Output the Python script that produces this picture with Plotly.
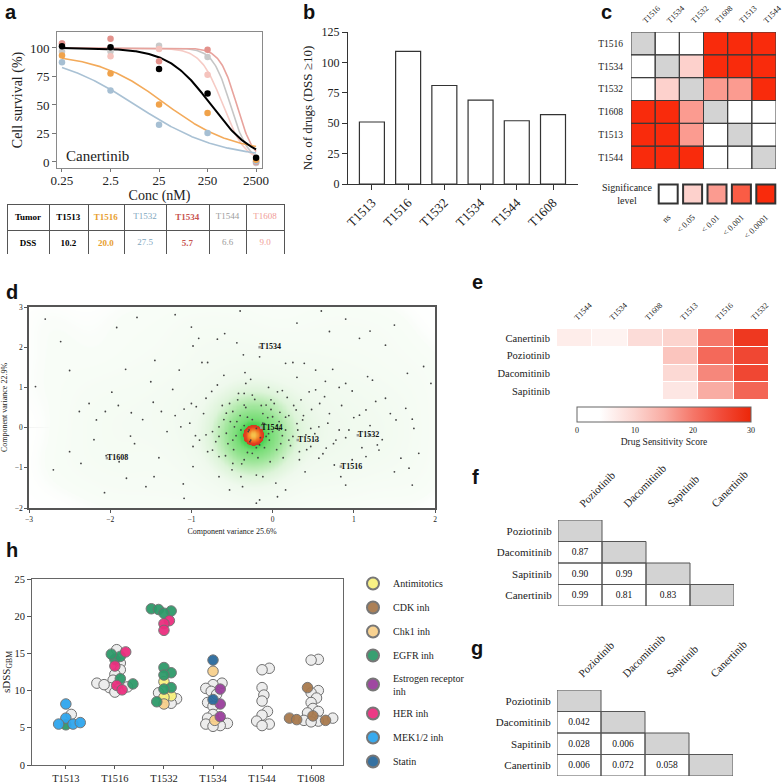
import numpy as np
import plotly.graph_objects as go

W = H = 784
SERIF = "Liberation Serif, DejaVu Serif, Times New Roman, serif"
SANS = "Liberation Sans, Arial, Helvetica, sans-serif"


def fx(p):
    return p / W


def fy(p):
    return 1 - p / H


# ---------------- panel a data ----------------
conc_nM = [0.25, 2.5, 25, 250, 2500]
conc_labels = ["0.25", "2.5", "25", "250", "2500"]
tumors_a = ["T1513", "T1516", "T1532", "T1534", "T1544", "T1608"]
surv_T1513 = [101.5, 100.6, 81.6, 60.0, 3.8]
surv_T1516 = [93.3, 77.5, 50.3, 43.0, 2.0]
surv_T1532 = [87.4, 62.6, 32.7, 25.4, 0.6]
surv_T1534 = [104.0, 108.0, 88.3, 98.5, 0.0]
surv_T1544 = [97.0, 97.0, 102.0, 92.0, -1.0]
surv_T1608 = [104.0, 92.7, 99.0, 76.6, 0.0]
fit_top = [100, 95, 96, 100, 100, 100]
fit_bottom = [0, 8, 3, 0, 0, 0]
fit_ic50 = [295, 32.5, 8.5, 1000, 740, 517]
fit_hill = [0.98, 0.62, 0.51, 2.5, 2.39, 1.9]
dss_canertinib = [10.2, 20.0, 27.5, 5.7, 6.6, 9.0]
point_colors = ["#000000", "#f0a24a", "#a6bfd3", "#e3928c", "#c9c9c9", "#f5c3bd"]
curve_colors = ["#000000", "#f3aa5a", "#a9c1d4", "#e8a39d", "#c6c6c6", "#f6cbc5"]
table_colors = ["#000000", "#e8a030", "#7fa7c0", "#c85450", "#9c9c9c", "#f09c96"]

# ---------------- panel b data ----------------
b_counts = [51, 109, 81, 69, 52, 57]

# ---------------- panel c data ----------------
c_order = ["T1516", "T1534", "T1532", "T1608", "T1513", "T1544"]
# 0=ns, 1=<0.05, 2=<0.01, 3=<0.001, 4=<0.0001, 5=diagonal
c_level = [
    [5, 0, 0, 4, 4, 4],
    [0, 5, 1, 4, 4, 4],
    [0, 1, 5, 2, 2, 4],
    [4, 4, 2, 5, 0, 0],
    [4, 4, 2, 0, 5, 0],
    [4, 4, 4, 0, 0, 5],
]
sig_labels = ["ns", "< 0.05", "< 0.01", "< 0.001", "< 0.0001"]
sig_colors = ["#ffffff", "#fdd1cc", "#fb9b90", "#fa5c45", "#f92b0c"]

# ---------------- panel d data ----------------
pca_x = [-2.61, -2.50, -2.92, -2.26, -2.38, -2.06, -2.17, -1.74, -1.81, -1.75, -1.98, -1.45, -1.50,
         -1.47, -1.37, -1.23, -1.15, -1.09, -0.91, -0.87, -0.80, -0.98, -0.68, -0.59, -0.44, -0.36,
         -0.34, -0.33, -0.35, -0.25, -0.16, -0.68, -0.82, -0.94, -1.02, -1.13, -0.90, -0.74, -0.66,
         -0.57, -0.49, -0.43, -0.35, -0.53, -0.44, -0.31, -0.08, -0.02, 0.06, 0.12, 0.16, 0.25, 0.39,
         0.53, 0.74, 0.90, 0.98, 0.82, 0.64, 0.53, 0.45, 0.35, 0.29, 0.16, 0.37, 0.47, 0.57, 0.68,
         0.82, 0.94, 1.07, 1.15, 1.27, 1.39, 1.52, 1.64, 1.72, 1.74, 1.86, 1.95, 1.66, 1.39, 1.07,
         0.70, 1.17, 1.23, 1.29, 1.31, 1.58, 1.68, 1.72, 1.80, 1.15, 0.98, 0.84, 0.90, 0.76, 0.57,
         0.47, 0.33, 0.20, 0.08, -0.04, -0.16, -0.25, -0.35, -0.49, -0.66, -0.74, -0.49, -0.39, -0.20,
         -0.12, 0.04, 0.16, 0.06, -0.16, -0.20, -0.37, -0.53, -0.66, -0.98, -1.09, -1.46, -1.56,
         -1.80, -1.89, -2.07, -2.36, -2.70, -2.05, -0.98, -0.82, -0.29, -0.20, -0.12, -0.08, -0.27,
         -0.39, -0.47, -0.57, -0.66, 0.00, 0.08, 0.16, 0.25, 0.31, 0.41, 0.53, 0.66, 0.78, 1.19,
         -1.92, -1.67, -1.20, -0.40, 0.30, 0.90, 1.50, -2.80, -1.00, 0.60, 1.20,
         -0.30, -0.15, -0.10, -0.35, -0.05, 0.05, -0.25, -0.45, 0.10, -0.20, -0.60, 0.20, -0.28,
         0.00, -0.40, -0.12, -0.55, 0.30, 0.12, -0.02,
         -1.30, -1.20, -1.00, -0.95, -0.85, -0.80, -0.75, -0.70, -0.62, -0.58, -0.52, -0.48, -0.42,
         -0.38, -0.33, -0.31, -0.27, -0.22, -0.18, -0.14, -0.10, -0.06, -0.03, 0.02, 0.05, 0.09,
         0.13, 0.18, 0.22, 0.26, 0.33, 0.38, 0.42, 0.48, 0.52, 0.58, 0.62, 0.70, 0.75, 0.85, 0.90,
         1.00, 1.10, 1.20, 1.35, 1.45, -1.60, -1.70, -1.90, -2.20, -2.50, -1.40, -0.60, 0.30, 0.65,
         -0.05, -0.50, 0.40, 1.50, -1.10]
pca_y = [2.14, 1.42, 1.02, 0.60, 0.40, 0.40, 0.19, 0.37, 1.45, -0.21, 0.88, 1.67, 1.14, 0.63, 0.40,
         0.95, 1.43, 0.46, 2.22, 1.62, 1.62, 2.03, 2.20, 2.34, 2.11, 1.81, 1.37, 1.10, 0.85, 0.81,
         1.76, 1.06, 0.73, 0.52, 0.11, 0.02, -0.31, -0.10, 0.02, 0.36, 0.40, 0.69, 0.56, 0.60, 0.15,
         0.26, 0.56, 0.69, 0.89, 0.92, 1.60, 1.62, 1.60, 1.43, 1.45, 1.10, 0.91, 1.00, 0.77, 0.94,
         0.89, 0.69, 0.44, 0.26, 0.19, -0.02, 0.02, 0.11, -0.06, -0.06, 0.31, 0.44, 0.65, 0.73,
         0.19, 0.48, 0.21, -0.02, 1.52, 1.10, 1.35, 2.05, 2.22, 2.39, 1.27, 1.18, -0.43, -0.56,
         -0.76, -1.01, -1.43, -0.64, -0.72, -0.80, -1.22, -1.43, -0.93, -0.76, -0.47, -0.60, -0.31,
         -0.06, -0.31, -0.43, -0.64, -0.80, -0.89, -0.72, -0.56, -0.31, -1.22, -1.18, -1.22, -1.38,
         -1.55, -1.72, -1.80, -1.88, -1.47, -1.55, -1.22, -0.97, -1.76, -1.22, -1.47, -1.26, -0.85,
         -1.62, -0.89, -1.05, -0.70, -0.47, -0.18, -0.06, -0.02, 0.11, -0.22, -0.31, -0.06, 0.02,
         -0.14, -0.22, 0.27, 0.15, -0.06, -0.22, -0.06, -0.18, -0.31, -0.51, -0.31, -0.18,
         2.49, 2.74, 2.81, 2.90, 2.60, 2.70, 2.55, 2.70, 2.50, 2.90, 2.40,
         -0.10, -0.25, 0.10, 0.05, -0.15, 0.05, 0.20, -0.20, -0.40, -0.50, 0.20, 0.30, -0.35,
         -0.10, 0.30, 0.35, -0.40, 0.10, -0.20, 0.45,
         -0.10, 0.30, 0.60, -0.20, 0.35, -0.60, 0.90, -0.35, 0.55, -0.70, 0.15, -0.55, 0.85,
         -0.90, 0.50, -0.62, 1.20, 0.70, -0.75, 0.55, -0.50, 0.25, -0.85, 0.60, -0.55, 0.38,
         -0.75, 0.75, -0.45, 0.55, -0.80, 0.30, -0.55, 0.45, -0.15, 0.60, -0.65, 0.35, -0.40, 0.55,
         -0.25, 0.25, -0.50, 0.05, -0.30, 0.35, 0.20, -0.40, 0.55, -0.30, -0.60, -0.75, 1.30, 1.25,
         1.15, 1.00, -1.05, -1.10, -1.10, -1.40]
inactive_x = [-0.24]
inactive_y = [-0.17]
inactive_n = [150]
pca_label = ["T1534", "T1544", "T1513", "T1532", "T1516", "T1608"]
pca_label_x = [-0.16, -0.14, 0.31, 1.05, 0.84, -2.04]
pca_label_y = [2.00, 0.00, -0.31, -0.19, -0.97, -0.76]

# ---------------- panel e data ----------------
e_drugs = ["Canertinib", "Poziotinib", "Dacomitinib", "Sapitinib"]
e_tumors = ["T1544", "T1534", "T1608", "T1513", "T1516", "T1532"]
e_canertinib = [6.6, 5.7, 9.0, 10.2, 20.0, 27.5]
e_poziotinib = [0.0, 0.0, 0.0, 12.0, 21.5, 25.5]
e_dacomitinib = [0.0, 0.0, 0.0, 9.5, 18.5, 25.5]
e_sapitinib = [0.0, 0.0, 0.0, 7.5, 15.0, 22.0]

# ---------------- panel f / g data ----------------
fg_drugs = ["Poziotinib", "Dacomitinib", "Sapitinib", "Canertinib"]
f_corr = [[None, None, None, None],
          [0.87, None, None, None],
          [0.90, 0.99, None, None],
          [0.99, 0.81, 0.83, None]]
g_pval = [[None, None, None, None],
          [0.042, None, None, None],
          [0.028, 0.006, None, None],
          [0.006, 0.072, 0.058, None]]

# ---------------- panel h data ----------------
h_tumors = ["T1513", "T1516", "T1532", "T1534", "T1544", "T1608"]
h_classes = ["Antimitotics", "CDK inh", "Chk1 inh", "EGFR inh", "Estrogen receptor inh",
             "HER inh", "MEK1/2 inh", "Statin"]
h_class_colors = ["#f8f17e", "#a87a4e", "#f8d08c", "#2e9a6a", "#9a3f9c", "#eb2f7f", "#2fa6ee", "#2b6a9c"]
h_vals_T1513 = [6.8, 8.2, 6.3, 5.5, 5.5, 5.7, 5.4]
h_cls_T1513 = ["other", "MEK1/2 inh", "MEK1/2 inh", "MEK1/2 inh", "MEK1/2 inh", "MEK1/2 inh", "EGFR inh"]
h_vals_T1516 = [15.5, 13.7, 12.8, 12.2, 11.4, 11.0, 10.5, 10.4, 10.8, 9.8,
                15.2, 13.3, 10.7, 10.1, 14.2, 14.6, 14.9, 11.6, 10.9]
h_cls_T1516 = ["other"] * 10 + ["HER inh"] * 4 + ["EGFR inh"] * 5
h_vals_T1532 = [9.7, 8.9, 8.3, 21.0, 20.9, 20.7, 20.4, 13.1, 12.4, 12.1, 10.4, 10.2, 8.5,
                19.4, 19.0, 18.1, 11.2, 9.3, 9.1, 8.2]
h_cls_T1532 = ["other"] * 3 + ["EGFR inh"] * 10 + ["HER inh"] * 3 + ["Antimitotics"] * 3 + ["Chk1 inh"]
h_vals_T1534 = [11.0, 10.8, 10.3, 9.9, 9.5, 8.4, 7.9, 6.8, 6.3, 5.6, 5.5, 5.3, 5.2,
                14.1, 8.8, 12.6, 6.0, 10.2, 8.2, 6.5]
h_cls_T1534 = ["other"] * 13 + ["Statin"] * 2 + ["Chk1 inh"] * 2 + ["Estrogen receptor inh"] * 3
h_vals_T1544 = [13.0, 12.8, 10.4, 9.4, 8.6, 7.2, 6.7, 5.9, 5.5, 5.3]
h_cls_T1544 = ["other"] * 10
h_vals_T1608 = [14.2, 14.1, 10.0, 9.7, 9.0, 8.4, 7.6, 7.2, 7.0, 6.3, 6.0, 5.9, 5.8,
                10.4, 6.6, 6.3, 6.1, 6.0]
h_cls_T1608 = ["other"] * 13 + ["CDK inh"] * 5

fig = go.Figure()
noleg = dict(showlegend=False, hoverinfo="skip")

# ================= panel a =================
surv_all = [surv_T1513, surv_T1516, surv_T1532, surv_T1534, surv_T1544, surv_T1608]
xs = np.logspace(np.log10(conc_nM[0]), np.log10(conc_nM[-1]), 240)
draw_order = [4, 5, 3, 2, 1, 0]
for i in draw_order:
    yc = fit_bottom[i] + (fit_top[i] - fit_bottom[i]) / (1 + (xs / fit_ic50[i]) ** fit_hill[i])
    fig.add_trace(go.Scatter(x=xs, y=yc, mode="lines",
                             line=dict(color=curve_colors[i], width=2.0 if i == 0 else 1.6),
                             xaxis="x", yaxis="y", **noleg))
for i in draw_order:
    fig.add_trace(go.Scatter(x=conc_nM, y=surv_all[i], mode="markers",
                             marker=dict(size=6.5, color=point_colors[i]),
                             xaxis="x", yaxis="y", **noleg))

# table under panel a
hdr_vals = ["<b>Tumor</b>"] + ["<b>%s</b>" % t if k in (0, 1, 3) else t for k, t in enumerate(tumors_a)]
cell_vals = [["<b>DSS</b>"]] + [["<b>%.1f</b>" % v] if k in (0, 1, 3) else ["%.1f" % v]
                                for k, v in enumerate(dss_canertinib)]
fig.add_trace(go.Table(
    domain=dict(x=[fx(7), fx(284)], y=[fy(254), fy(204)]),
    columnwidth=[42, 39, 36, 42, 43, 37, 38],
    header=dict(values=hdr_vals, height=19, align="center",
                line=dict(color="#555555", width=1), fill=dict(color="white"),
                font=dict(family=SERIF, size=9, color=["#000000"] + table_colors)),
    cells=dict(values=cell_vals, height=20, align="center",
               line=dict(color="#555555", width=1), fill=dict(color="white"),
               font=dict(family=SERIF, size=9, color=["#000000"] + table_colors)),
))

# ================= panel b =================
fig.add_trace(go.Bar(x=tumors_a, y=b_counts, width=0.69,
                     marker=dict(color="white", line=dict(color="#333333", width=1.2)),
                     xaxis="x2", yaxis="y2", **noleg))

# ================= panel c =================
c_cols = sig_colors + ["#d3d3d3"]
cs_c = []
for k, c in enumerate(c_cols):
    cs_c += [[k / 6, c], [(k + 1) / 6, c]]
fig.add_trace(go.Heatmap(z=c_level, x=c_order, y=c_order, zmin=-0.5, zmax=5.5, colorscale=cs_c,
                         showscale=False, xaxis="x3", yaxis="y3", hoverinfo="skip"))
fig.add_trace(go.Scatter(x=sig_labels, y=[0] * 5, mode="markers",
                         marker=dict(symbol="square", size=19, color=sig_colors,
                                     line=dict(color="#333333", width=2)),
                         xaxis="x4", yaxis="y4", **noleg))

# ================= panel d =================
gx = np.linspace(-3, 2, 301)
gy = np.linspace(-2, 3, 201)
GX, GY = np.meshgrid(gx, gy)
PXX, PXY = 81.2, 40.2
dens = np.zeros_like(GX)
for x0, y0 in zip(pca_x + pca_label_x, pca_y + pca_label_y):
    r2 = ((GX - x0) * PXX) ** 2 + ((GY - y0) * PXY) ** 2
    dens += 0.1 * np.exp(-r2 / (2 * 24.0 ** 2))
for x0, y0, n in zip(inactive_x, inactive_y, inactive_n):
    r2 = ((GX - x0) * PXX) ** 2 + ((GY - y0) * PXY) ** 2
    dens += 0.27 * n * np.exp(-r2 / (2 * 20.0 ** 2))
    dens += 4.0 * n * np.exp(-r2 / (2 * 5.0 ** 2))
dens = np.log10(1 + dens)
zmax_d = float(dens.max())
cs_d = [[0.0, "rgba(255,255,255,0)"], [0.03, "rgba(248,253,247,1)"], [0.2, "#eff9ed"],
        [0.32, "#ddf4d9"], [0.42, "#b6ebb0"], [0.52, "#86e083"], [0.62, "#5bd65f"],
        [0.72, "#45cf53"], [0.73, "#cf3a22"], [0.82, "#e5401e"], [0.92, "#ef7a24"],
        [1.0, "#f6c24c"]]
fig.add_trace(go.Heatmap(z=dens, x=gx, y=gy, zmin=0, zmax=zmax_d, colorscale=cs_d, zsmooth="best",
                         showscale=False, xaxis="x5", yaxis="y5", hoverinfo="skip"))
fig.add_trace(go.Scatter(x=pca_x, y=pca_y, mode="markers",
                         marker=dict(size=1.8, color="#444444"), xaxis="x5", yaxis="y5", **noleg))
fig.add_trace(go.Scatter(x=pca_label_x, y=pca_label_y, mode="markers",
                         marker=dict(size=2.5, symbol="square", color="#9a9a9a"),
                         xaxis="x5", yaxis="y5", **noleg))
fig.add_trace(go.Scatter(x=pca_label_x, y=pca_label_y, mode="text", text=pca_label,
                         textposition="middle right",
                         textfont=dict(family=SERIF, size=8, color="#111111"),
                         texttemplate="<b>%{text}</b>",
                         xaxis="x5", yaxis="y5", **noleg))

# ================= panel e =================
e_matrix = [e_canertinib, e_poziotinib, e_dacomitinib, e_sapitinib]
cs_e = [[0, "#ffffff"], [0.13, "#ffffff"], [0.33, "#fcd6d1"], [0.5, "#f9aca3"], [0.67, "#f57668"],
        [0.83, "#f14b39"], [1, "#ec2608"]]
fig.add_trace(go.Heatmap(z=e_matrix, x=e_tumors, y=e_drugs, zmin=0, zmax=30, colorscale=cs_e,
                         xgap=1, ygap=1, xaxis="x6", yaxis="y6", hoverinfo="skip",
                         colorbar=dict(orientation="h", x=fx(664), xanchor="center", y=fy(407),
                                       yanchor="top", len=174, lenmode="pixels", thickness=15,
                                       thicknessmode="pixels", outlinewidth=1, outlinecolor="#666666",
                                       xpad=0, ypad=0, tickvals=[0, 10, 20, 30], ticks="",
                                       tickfont=dict(family=SERIF, size=8, color="#222"),
                                       title=dict(text="Drug Sensitivity Score", side="bottom",
                                                  font=dict(family=SERIF, size=9.5, color="#222")))))

# ================= panel f / g =================
def tri_heat(vals, fmt, xa, ya):
    z, txt = [], []
    for i in range(4):
        zr, tr = [], []
        for j in range(4):
            if j == i:
                zr.append(0); tr.append("")
            elif j < i:
                zr.append(1); tr.append(fmt % vals[i][j])
            else:
                zr.append(None); tr.append("")
        z.append(zr); txt.append(tr)
    fig.add_trace(go.Heatmap(z=z, x=fg_drugs, y=fg_drugs, text=txt, texttemplate="%{text}",
                             textfont=dict(family=SERIF, size=9.5, color="#111"),
                             zmin=0, zmax=1,
                             colorscale=[[0, "#d3d3d3"], [0.5, "#d3d3d3"], [0.5, "#ffffff"], [1, "#ffffff"]],
                             showscale=False, xaxis=xa, yaxis=ya, hoverinfo="skip"))


tri_heat(f_corr, "%.2f", "x7", "y7")
tri_heat(g_pval, "%.3f", "x8", "y8")

# ================= panel h =================
def swarm(vals, ypx, xpx, d):
    order = np.argsort(vals)
    placed = []
    offs = [0.0] * len(vals)
    for i in order:
        y = vals[i] * ypx
        best = None
        for k in range(0, 60):
            for sgn in ([0] if k == 0 else [1, -1]):
                o = sgn * k * d * 0.3
                if all((o - a) ** 2 + (y - b) ** 2 >= d * d for a, b in placed):
                    best = o
                    break
            if best is not None:
                break
        placed.append((best, y))
        offs[i] = best / xpx
    return offs


h_vals_all = [h_vals_T1513, h_vals_T1516, h_vals_T1532, h_vals_T1534, h_vals_T1544, h_vals_T1608]
h_cls_all = [h_cls_T1513, h_cls_T1516, h_cls_T1532, h_cls_T1534, h_cls_T1544, h_cls_T1608]
pts = {c: ([], []) for c in ["other"] + h_classes}
for ti, (vals, cls) in enumerate(zip(h_vals_all, h_cls_all)):
    offs = swarm(vals, 7.44, 49.0, 6.0)
    for v, c, o in zip(vals, cls, offs):
        pts[c][0].append(ti + o)
        pts[c][1].append(v)

MS = 10.5
fig.add_trace(go.Scatter(x=pts["other"][0], y=pts["other"][1], mode="markers",
                         marker=dict(size=MS, color="#ededed", line=dict(color="#707070", width=1)),
                         xaxis="x9", yaxis="y9", **noleg))
for k, c in enumerate(h_classes):
    name = "Estrogen receptor<br>inh" if c.startswith("Estrogen") else c
    fig.add_trace(go.Scatter(x=pts[c][0], y=pts[c][1], mode="markers", name=name,
                             legendgroup=c, showlegend=True, hoverinfo="skip",
                             marker=dict(size=MS, color=h_class_colors[k], opacity=0.95,
                                         line=dict(color="#707070", width=1)),
                             xaxis="x9", yaxis="y9"))

# ================= layout =================
tf = lambda s: dict(family=SERIF, size=s, color="#222222")
base = dict(showgrid=False, zeroline=False, automargin=False)
clear_tick = dict(ticks="outside", tickcolor="rgba(0,0,0,0)")

layout = dict(
    width=W, height=H, margin=dict(l=0, r=0, t=0, b=0, pad=0, autoexpand=False), autosize=False,
    paper_bgcolor="white", plot_bgcolor="rgba(0,0,0,0)",
    font=dict(family=SERIF, color="#222222"),
    showlegend=True,
    legend=dict(x=fx(353), y=fy(569), xanchor="left", yanchor="top", font=tf(10),
                tracegroupgap=5, bgcolor="rgba(0,0,0,0)", itemsizing="constant",
                traceorder="grouped"),
    xaxis=dict(base, domain=[fx(57), fx(262)], anchor="y", type="log", range=[-0.705, 3.52],
               tickvals=conc_nM, ticktext=conc_labels, ticks="outside", ticklen=3, tickcolor="#777",
               ticklabelstandoff=-3,
               showline=True, mirror=True, linecolor="#8a8a8a", tickfont=tf(13),
               title=dict(text="Conc (nM)", font=tf(14), standoff=0)),
    yaxis=dict(base, domain=[fy(168), fy(32)], anchor="x", range=[-5.3, 114],
               tickvals=[0, 25, 50, 75, 100], ticks="outside", ticklen=4, tickcolor="#777",
               showline=True, mirror=True, linecolor="#8a8a8a", tickfont=tf(13),
               title=dict(text="Cell survival (%)", font=tf(14), standoff=4)),
    xaxis2=dict(base, domain=[fx(348), fx(578)], anchor="y2", type="category", range=[-0.66, 5.69],
                tickangle=-45, ticks="outside", ticklen=5, tickcolor="#333", showline=True,
                linecolor="#333333", tickfont=tf(13)),
    yaxis2=dict(base, domain=[fy(184), fy(32)], anchor="x2", range=[0, 125], dtick=25,
                ticks="outside", ticklen=5, tickcolor="#333", showline=True, linecolor="#333333",
                tickfont=tf(12), title=dict(text="No. of drugs (DSS ≥10)", font=tf(13), standoff=6)),
    xaxis3=dict(base, domain=[fx(631), fx(776)], anchor="y3", side="top", type="category",
                range=[-0.5, 5.5], tickangle=-45, ticklen=3, tickfont=tf(8), **clear_tick),
    yaxis3=dict(base, domain=[fy(169), fy(32)], anchor="x3", type="category", range=[5.5, -0.5],
                ticklen=5, tickfont=tf(9.5), **clear_tick),
    xaxis4=dict(base, domain=[fx(656), fx(778)], anchor="y4", type="category", range=[-0.5, 4.5],
                tickangle=-45, ticklen=2, tickfont=tf(8.5), **clear_tick),
    yaxis4=dict(base, domain=[fy(206), fy(182)], anchor="x4", range=[-1, 1], visible=False),
    xaxis5=dict(showgrid=False, automargin=False, domain=[fx(29), fx(435)], anchor="y5",
                range=[-3, 2], dtick=1,
                ticks="outside", ticklen=3, tickcolor="#555", showline=True, mirror=True,
                linecolor="#555555", linewidth=1.5, tickfont=tf(7.5),
                zeroline=True, zerolinecolor="#eeeeee", zerolinewidth=1,
                title=dict(text="Component variance 25.6%", font=tf(8), standoff=6)),
    yaxis5=dict(showgrid=False, automargin=False, domain=[fy(508), fy(307)], anchor="x5",
                range=[-2, 3], dtick=1,
                ticks="outside", ticklen=3, tickcolor="#555", showline=True, mirror=True,
                linecolor="#555555", linewidth=1.5, tickfont=tf(7.5),
                zeroline=True, zerolinecolor="#eeeeee", zerolinewidth=1,
                title=dict(text="Component variance 22.9%", font=tf(8), standoff=6)),
    xaxis6=dict(base, domain=[fx(557), fx(769)], anchor="y6", side="top", type="category",
                range=[-0.5, 5.5], tickangle=-45, ticklen=3, tickfont=tf(8), **clear_tick),
    yaxis6=dict(base, domain=[fy(400), fy(329)], anchor="x6", type="category", range=[3.5, -0.5],
                ticklen=4, tickfont=tf(10.5), **clear_tick),
    xaxis7=dict(base, domain=[fx(558), fx(734)], anchor="y7", side="top", type="category",
                range=[-0.5, 3.5], tickangle=-45, ticklen=5, tickfont=tf(11), **clear_tick),
    yaxis7=dict(base, domain=[fy(606), fy(520)], anchor="x7", type="category", range=[3.5, -0.5],
                ticklen=3, tickfont=tf(11), **clear_tick),
    xaxis8=dict(base, domain=[fx(557), fx(733)], anchor="y8", side="top", type="category",
                range=[-0.5, 3.5], tickangle=-45, ticklen=5, tickfont=tf(11), **clear_tick),
    yaxis8=dict(base, domain=[fy(776), fy(690)], anchor="x8", type="category", range=[3.5, -0.5],
                ticklen=3, tickfont=tf(11), **clear_tick),
    xaxis9=dict(base, domain=[fx(32), fx(343)], anchor="y9", range=[-0.69, 5.65],
                tickvals=list(range(6)), ticktext=h_tumors, ticks="outside", ticklen=3,
                tickcolor="#555", showline=True, mirror=True, linecolor="#666666", tickfont=tf(10.5)),
    yaxis9=dict(base, domain=[fy(765), fy(579)], anchor="x9", range=[0, 25], dtick=5,
                ticks="outside", ticklen=4, tickcolor="#555", showline=True, mirror=True,
                linecolor="#666666", tickfont=tf(10.5),
                title=dict(text="sDSS<sub>GBM</sub>", font=tf(11), standoff=3)),
)

shapes = []
for i in range(6):
    for j in range(6):
        shapes.append(dict(type="rect", xref="x3", yref="y3", x0=j - 0.5, x1=j + 0.5,
                           y0=i - 0.5, y1=i + 0.5, line=dict(color="#3a3a3a", width=1)))
for xa, ya in (("x7", "y7"), ("x8", "y8")):
    for i in range(4):
        for j in range(i + 1):
            shapes.append(dict(type="rect", xref=xa, yref=ya, x0=j - 0.5, x1=j + 0.5,
                               y0=i - 0.5, y1=i + 0.5, line=dict(color="#555555", width=1)))
layout["shapes"] = shapes

ann = []
for letter, x, y in (("a", 3, 12), ("b", 301, 12), ("c", 599, 12), ("d", 4, 292),
                     ("e", 470, 282), ("f", 470, 477), ("g", 469, 648), ("h", 4, 550)):
    ann.append(dict(text="<b>%s</b>" % letter, x=fx(x), y=fy(y), xref="paper", yref="paper",
                    xanchor="left", yanchor="middle", showarrow=False,
                    font=dict(family=SANS, size=20, color="#111")))
ann.append(dict(text="Canertinib", x=np.log10(0.27), y=5, xref="x", yref="y", xanchor="left",
                yanchor="middle", showarrow=False, font=tf(15)))
ann.append(dict(text="Significance<br>level", x=fx(627), y=fy(194), xref="paper", yref="paper",
                xanchor="center", yanchor="middle", showarrow=False, font=tf(10)))
layout["annotations"] = ann

fig.update_layout(layout)
fig.write_html("out.html", config={"displayModeBar": False},
               post_script="document.body.style.margin='0px';")
